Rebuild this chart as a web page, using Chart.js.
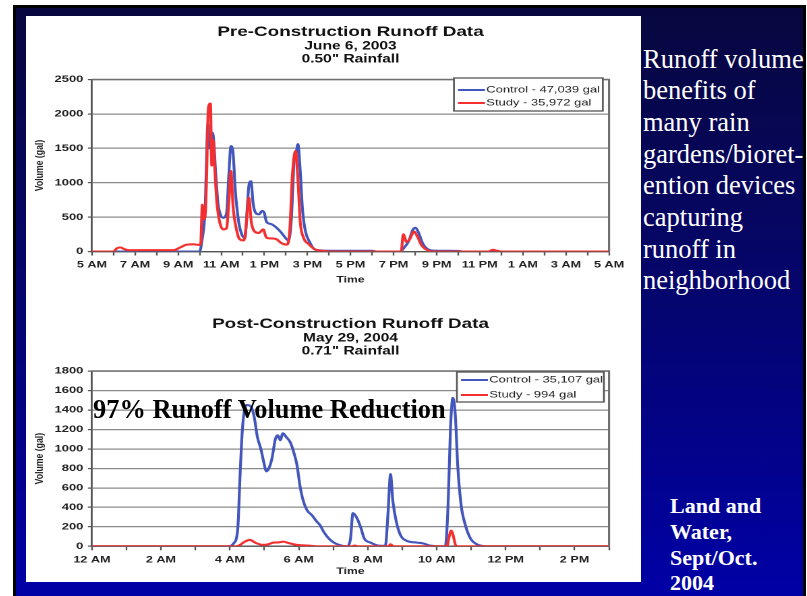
<!DOCTYPE html>
<html>
<head>
<meta charset="utf-8">
<script src="https://cdn.jsdelivr.net/npm/chart.js@4.4.1/dist/chart.umd.min.js"></script>
<style>
  html, body { margin: 0; padding: 0; background: #fff; width: 807px; height: 596px; overflow: hidden; }
  #frame { position: absolute; left: 13px; top: 5px; width: 793px; height: 591px; background: #000; }
  #slide { position: absolute; left: 16px; top: 8px; width: 787px; height: 588px;
           background: linear-gradient(to bottom, #07073f 0%, #05056f 50%, #0000a6 100%); }
  #panel { position: absolute; left: 26px; top: 16px; width: 615px; height: 566px; background: #fff; }
  .chartbox { position: absolute; left: 26px; transform-origin: 0 0; }
  .chartbox canvas { display: block; }
  #side { position: absolute; left: 643px; top: 43.5px; color: #fff;
          font-family: "Liberation Serif", "Times New Roman", serif; font-size: 26.5px; line-height: 31.67px; white-space: nowrap; }
  #source { position: absolute; left: 670px; top: 493px; color: #fff; font-weight: bold;
            font-family: "Liberation Serif", "Times New Roman", serif; font-size: 22px; line-height: 25.8px; white-space: nowrap; }
  #reduction { position: absolute; left: 93px; top: 396px; color: #000; font-weight: bold;
               font-family: "Liberation Serif", "Times New Roman", serif; font-size: 26.4px; line-height: 26px; white-space: nowrap; }
</style>
</head>
<body>
<div id="frame"></div>
<div id="slide"></div>
<div id="panel"></div>
<div class="chartbox" id="preBox" style="top:16px"><canvas id="preChart" width="456" height="275"></canvas></div>
<div class="chartbox" id="postBox" style="top:297px"><canvas id="postChart" width="456" height="285"></canvas></div>
<div id="reduction">97% Runoff Volume Reduction</div>
<div id="side">Runoff volume<br>benefits of<br>many rain<br>gardens/bioret-<br>ention devices<br>capturing<br>runoff in<br>neighborhood</div>
<div id="source">Land and<br>Water,<br>Sept/Oct.<br>2004</div>

<script>
// ---- Pre-construction storm, June 6, 2003 (hours counted from midnight of June 6) ----
const preTitle = 'Pre-Construction Runoff Data';
const preSubtitle = ['June 6, 2003', '0.50" Rainfall'];
const preTickLabels = ['5 AM', '7 AM', '9 AM', '11 AM', '1 PM', '3 PM', '5 PM', '7 PM', '9 PM', '11 PM', '1 AM', '3 AM', '5 AM'];
const preSeriesLabels = ['Control - 47,039 gal', 'Study - 35,972 gal'];

const preControlHours = [5, 10.0, 10.1, 10.25, 10.38, 10.45, 10.55, 10.62, 10.75, 10.85,
  10.97, 11.1, 11.25, 11.35, 11.45, 11.55, 11.65, 11.8, 11.95, 12.1,
  12.2, 12.28, 12.38, 12.48, 12.6, 12.75, 12.9, 13.0, 13.1, 13.3,
  13.55, 13.8, 14.0, 14.12, 14.25, 14.38, 14.47, 14.56, 14.65, 14.78,
  14.92, 15.1, 15.3, 15.6, 16.0, 18.0, 18.2, 19.3, 19.5, 19.7,
  19.9, 20.02, 20.15, 20.35, 20.6, 20.9, 22.0, 22.2, 29];
const preControlGal = [0, 0, 150, 600, 1850, 1500, 1730, 1700, 1100, 700,
  530, 490, 560, 1100, 1530, 1430, 900, 450, 250, 200,
  600, 950, 1020, 700, 560, 540, 590, 560, 430, 400,
  350, 270, 190, 160, 450, 1300, 1420, 1560, 1250, 580,
  280, 140, 40, 15, 10, 10, 0, 0, 60, 150,
  320, 345, 280, 120, 30, 12, 8, 0, 0];

const preStudyHours = [5, 6.0, 6.15, 6.3, 6.5, 6.7, 8.8, 9.1, 9.4, 9.7,
  10.0, 10.05, 10.12, 10.2, 10.28, 10.33, 10.4, 10.5, 10.56, 10.62,
  10.7, 10.8, 10.95, 11.1, 11.25, 11.35, 11.45, 11.55, 11.7, 11.85,
  12.05, 12.15, 12.28, 12.4, 12.55, 12.75, 12.95, 13.1, 13.3, 13.55,
  13.8, 14.05, 14.18, 14.3, 14.45, 14.55, 14.67, 14.82, 15.05, 15.35,
  15.7, 16.0, 19.35, 19.45, 19.6, 19.75, 19.95, 20.1, 20.3, 20.6,
  20.9, 23.4, 23.6, 23.8, 24.0, 29];
const preStudyGal = [0, 0, 45, 60, 35, 20, 20, 60, 100, 105,
  95, 120, 680, 470, 650, 1200, 2080, 2150, 1250, 1620,
  1200, 700, 400, 320, 340, 700, 1170, 650, 330, 180,
  160, 350, 780, 420, 290, 270, 320, 200, 190, 180,
  120, 100, 300, 1100, 1460, 1100, 420, 200, 110, 30,
  10, 0, 0, 250, 140, 180, 290, 220, 90, 15,
  0, 0, 25, 10, 0, 0];

// ---- Post-construction storm, May 29, 2004 (hours from midnight) ----
const postTitle = 'Post-Construction Runoff Data';
const postSubtitle = ['May 29, 2004', '0.71" Rainfall'];
const postTickLabels = ['12 AM', '2 AM', '4 AM', '6 AM', '8 AM', '10 AM', '12 PM', '2 PM'];
const postSeriesLabels = ['Control - 35,107 gal', 'Study - 994 gal'];

const postControlHours = [0, 3.97, 4.11, 4.23, 4.3, 4.36, 4.43, 4.5, 4.6, 4.7,
  4.8, 4.9, 4.98, 5.06, 5.13, 5.22, 5.32, 5.39, 5.46, 5.54,
  5.64, 5.75, 5.85, 5.95, 6.03, 6.12, 6.24, 6.38, 6.53, 6.62,
  6.72, 6.87, 7.01, 7.16, 7.4, 7.5, 7.57, 7.67, 7.79, 7.9,
  8.08, 8.32, 8.51, 8.59, 8.66, 8.73, 8.83, 8.95, 9.14, 9.43,
  9.6, 9.82, 10.25, 10.33, 10.4, 10.47, 10.54, 10.61, 10.71, 10.83,
  10.98, 11.17, 11.46, 15];
const postControlGal = [0, 0, 30, 185, 760, 1180, 1410, 1450, 1440, 1340,
  1120, 1000, 870, 770, 800, 900, 1100, 1140, 1090, 1160,
  1120, 1070, 970, 830, 630, 480, 370, 320, 250, 215,
  150, 80, 40, 15, 0, 80, 340, 300, 200, 80,
  38, 7, 5, 350, 740, 460, 250, 115, 55, 38,
  30, 7, 0, 420, 1210, 1525, 1350, 830, 420, 220,
  80, 20, 0, 0];

const postStudyHours = [0, 4.2, 4.3, 4.42, 4.58, 4.75, 4.95, 5.1, 5.27, 5.42,
  5.55, 5.7, 5.95, 6.3, 6.5, 7.55, 7.62, 7.7, 8.6, 8.66,
  8.75, 10.3, 10.35, 10.42, 10.48, 10.55, 10.6, 15];
const postStudyGal = [0, 0, 15, 45, 65, 35, 15, 20, 38, 40,
  48, 34, 14, 7, 0, 0, 8, 0, 0, 20,
  0, 0, 80, 160, 110, 10, 0, 0];

// ---- drawing ----
const SANS = '"Liberation Sans", Arial, Helvetica, sans-serif';
const STRETCH = 1.3487;          // the slide image is widened horizontally
const CONTROL_COLOR = '#4356bb';
const STUDY_COLOR = '#f3302f';

Chart.defaults.color = '#1e1e1e';
Chart.defaults.font.family = SANS;

const zip = (xs, ys) => xs.map((x, i) => ({ x: x, y: ys[i] }));

// gray frame on the top and right edges of the plot area
const plotFrame = {
  id: 'plotFrame',
  beforeDatasetsDraw(chart, args, o) {
    const { ctx, chartArea: a } = chart;
    ctx.save();
    ctx.strokeStyle = o.color;
    ctx.lineWidth = o.width;
    ctx.beginPath();
    ctx.moveTo(a.left, a.top);
    ctx.lineTo(a.right, a.top);
    ctx.lineTo(a.right, a.bottom);
    ctx.stroke();
    ctx.restore();
  }
};

// boxed legend sitting in the top-right corner of the plot
const boxLegend = {
  id: 'boxLegend',
  afterDraw(chart, args, o) {
    const { ctx, chartArea: a } = chart;
    const x = a.right - o.right - o.width;
    const y = a.top + o.top;
    ctx.save();
    ctx.fillStyle = '#fff';
    ctx.fillRect(x, y, o.width, o.height);
    ctx.strokeStyle = o.borderColor;
    ctx.lineWidth = o.borderWidth;
    ctx.strokeRect(x, y, o.width, o.height);
    ctx.font = o.font;
    ctx.textBaseline = 'middle';
    ctx.textAlign = 'left';
    chart.data.datasets.forEach((ds, i) => {
      const ry = y + o.rows[i];
      ctx.strokeStyle = ds.borderColor;
      ctx.lineWidth = ds.borderWidth;
      ctx.beginPath();
      ctx.moveTo(x + o.lineX, ry);
      ctx.lineTo(x + o.lineX + o.lineLen, ry);
      ctx.stroke();
      ctx.fillStyle = o.color;
      ctx.fillText(ds.label, x + o.lineX + o.lineLen + o.gap, ry);
    });
    ctx.restore();
  }
};

function runoffChart(canvasId, cfg) {
  const box = document.getElementById(canvasId).parentNode;
  box.style.transform = 'scaleX(' + STRETCH + ')';
  return new Chart(document.getElementById(canvasId), {
    type: 'line',
    data: {
      datasets: [
        { label: cfg.labels[0], data: zip(cfg.controlHours, cfg.controlGal), borderColor: CONTROL_COLOR,
          backgroundColor: CONTROL_COLOR, borderWidth: 2.1, pointRadius: 0, cubicInterpolationMode: 'monotone', order: 1 },
        { label: cfg.labels[1], data: zip(cfg.studyHours, cfg.studyGal), borderColor: STUDY_COLOR,
          backgroundColor: STUDY_COLOR, borderWidth: 2.1, pointRadius: 0, cubicInterpolationMode: 'monotone', order: 0 }
      ]
    },
    options: {
      responsive: false,
      maintainAspectRatio: false,
      devicePixelRatio: 2,
      animation: false,
      events: [],
      layout: { padding: { left: 0, right: 23.7, top: 0, bottom: 0 } },
      scales: {
        x: {
          type: 'linear',
          min: cfg.xMin, max: cfg.xMax,
          ticks: {
            stepSize: 1, autoSkip: false, maxRotation: 0, padding: 3.8,
            font: { size: 9.4, weight: 'bold' }, color: '#222',
            callback: (v) => ((v - cfg.xMin) % 2 === 0 ? cfg.tickLabels[(v - cfg.xMin) / 2] : '')
          },
          grid: { drawOnChartArea: false, drawTicks: true, tickLength: 4, tickColor: '#555', tickWidth: 1.2 },
          border: { color: '#555', width: 1.4 },
          title: { display: true, text: 'Time', font: { size: 9, weight: 'bold' }, color: '#222',
                   padding: { top: 0, bottom: cfg.timePad } },
          afterFit: (s) => { s.height = cfg.xAxisHeight; }
        },
        y: {
          min: 0, max: cfg.yMax,
          ticks: { stepSize: cfg.yStep, padding: 3.4, font: { size: 9.6, weight: 'bold' }, color: '#222',
                   callback: (v) => String(v) },
          grid: { color: '#8a8a8a', lineWidth: 1.2, drawTicks: true, tickLength: 3, tickColor: '#555' },
          border: { color: '#555', width: 1.4 },
          title: { display: true, text: 'Volume (gal)', font: { size: 8.7, weight: 'bold' }, color: '#222',
                   padding: { top: 5, bottom: 0 } },
          afterFit: (s) => { s.width = 48.9; }
        }
      },
      plugins: {
        legend: { display: false },
        tooltip: { enabled: false },
        title: {
          display: true, text: cfg.title, fullSize: false, color: '#111',
          font: { size: 14, weight: 'bold', lineHeight: 1 },
          padding: { top: cfg.titlePad, bottom: 0 }
        },
        subtitle: {
          display: true, text: cfg.subtitle, fullSize: false, color: '#111',
          font: { size: 11.5, weight: 'bold', lineHeight: 13 / 11.5 },
          padding: { top: 1, bottom: cfg.subPad }
        },
        plotFrame: { color: '#707070', width: 1.6 },
        boxLegend: Object.assign({
          borderColor: '#555', borderWidth: 1.3, color: '#222',
          font: '9.6px ' + SANS, lineX: 3, lineLen: 20, gap: 1, width: 110.4
        }, cfg.legend)
      }
    },
    plugins: [plotFrame, boxLegend]
  });
}

runoffChart('preChart', {
  title: preTitle, subtitle: preSubtitle, labels: preSeriesLabels, tickLabels: preTickLabels,
  controlHours: preControlHours, controlGal: preControlGal,
  studyHours: preStudyHours, studyGal: preStudyGal,
  xMin: 5, xMax: 29, yMax: 2500, yStep: 500,
  titlePad: 9, subPad: 13.5, xAxisHeight: 39.5, timePad: 5.6,
  legend: { right: 4.6, top: -1.5, height: 33, rows: [12, 25] }
});

runoffChart('postChart', {
  title: postTitle, subtitle: postSubtitle, labels: postSeriesLabels, tickLabels: postTickLabels,
  controlHours: postControlHours, controlGal: postControlGal,
  studyHours: postStudyHours, studyGal: postStudyGal,
  xMin: 0, xMax: 15, yMax: 1800, yStep: 200,
  titlePad: 20, subPad: 13, xAxisHeight: 35.7, timePad: 4.9,
  legend: { right: 3.8, top: 1, height: 30, rows: [8, 23], width: 109 }
});
</script>
</body>
</html>
